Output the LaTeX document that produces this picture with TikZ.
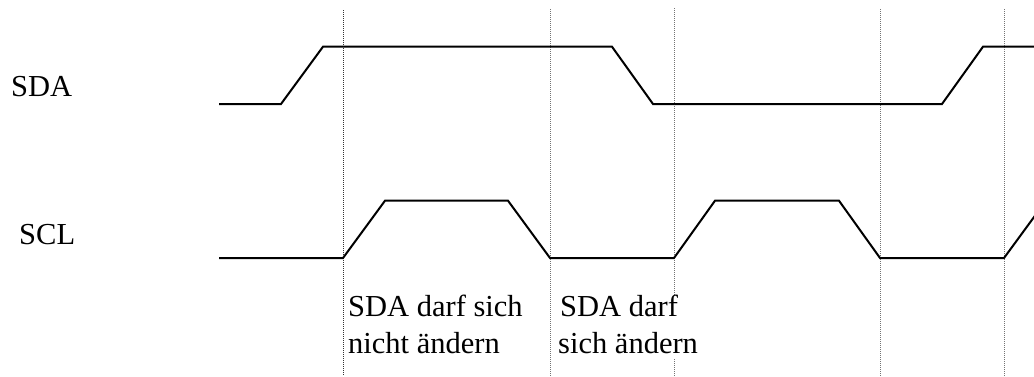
\documentclass[tikz,border=0pt]{standalone}
\usepackage{fontspec}
\setmainfont{Liberation Serif}
\begin{document}
\begin{tikzpicture}[x=1pt,y=-1pt,
    signal/.style={line width=2pt,line join=miter},
    marker/.style={line width=0.8pt,dash pattern=on 1pt off 1pt,black!55},
    lbl/.style={inner sep=0pt,anchor=base west,font=\fontsize{30.5}{36}\selectfont}]
  \useasboundingbox (0,0) rectangle (1034,376);
  \clip (0,0) rectangle (1034,376);

  % vertical reference lines at the SCL edges
  \draw[marker,black!80] (343,10) -- (343,376);
  \draw[marker] (550,9) -- (550,376);
  \draw[marker] (674,8) -- (674,295);
  \draw[marker] (674,359) -- (674,376);
  \foreach \x in {880,1004}
    \draw[marker] (\x,9) -- (\x,376);

  % signal names
  \node[lbl] (sda) at (11,96) {SDA};
  \node[lbl] (scl) at (19,244) {SCL};

  % SDA waveform
  \draw[signal] (219,104) -- (281,104) -- (323,46.7) -- (612,46.7)
    -- (653,104) -- (942,104) -- (983,46.7) -- (1040,46.7);

  % SCL waveform
  \draw[signal] (219,258) -- (343,258) -- (385,200.7) -- (508,200.7)
    -- (550,258) -- (674,258) -- (715,200.7) -- (839,200.7)
    -- (880,258) -- (1004,258) -- (1046,200.7);

  % annotations
  \node[lbl] (hold1) at (348,316) {SDA darf sich};
  \node[lbl] (hold2) at (348,353) {nicht ändern};
  \node[lbl] (chg1) at (560,316) {SDA darf};
  \node[lbl] (chg2) at (558,353) {sich ändern};
\end{tikzpicture}
\end{document}
